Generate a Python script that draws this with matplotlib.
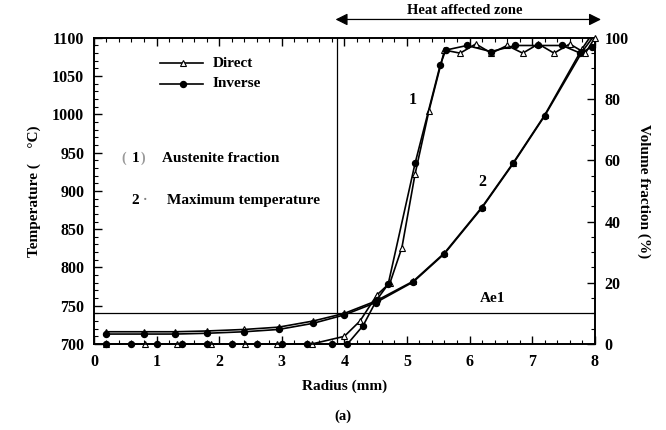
import numpy as np
import matplotlib
matplotlib.use("Agg")
import matplotlib.pyplot as plt
from matplotlib.ticker import MultipleLocator

# ---------------------------------------------------------------------------
# Data
# ---------------------------------------------------------------------------
# Maximum temperature (curve 2, left axis)
temp_x = [0.2, 0.8, 1.3, 1.8, 2.4, 2.95, 3.5, 4.0, 4.5, 5.1, 5.6, 6.2, 6.7, 7.2, 7.8, 8.0]
temp_direct = [716, 716, 716, 717, 719, 722, 730, 740, 756, 782, 819, 879, 937, 999, 1086, 1110]
temp_inverse = [713, 713, 713, 714, 716, 719, 727, 738, 754, 781, 818, 878, 936, 998, 1082, 1104]

# Austenite fraction (curve 1, right axis)
frac_dir_x = [0.2, 0.82, 1.33, 1.87, 2.41, 2.92, 3.48, 4.0, 4.25, 4.52, 4.73, 4.92,
              5.13, 5.35, 5.6, 5.85, 6.1, 6.35, 6.6, 6.85, 7.1, 7.35, 7.6, 7.85, 8.0]
frac_dir = [0, 0, 0, 0, 0, 0, 0, 2.5, 7.5, 16, 20, 31.5,
            55.5, 76, 96, 95, 98, 95, 97.5, 95, 98, 95, 98, 95, 100]

frac_inv_x = [0.2, 0.6, 1.0, 1.4, 1.8, 2.2, 2.6, 3.0, 3.4, 3.8, 4.05, 4.3, 4.52, 4.7,
              5.13, 5.53, 5.62, 5.96, 6.34, 6.73, 7.1, 7.48, 7.77, 7.95]
frac_inv = [0, 0, 0, 0, 0, 0, 0, 0, 0, 0, 0, 6, 14.5, 19.5,
            59, 91, 96, 97.5, 95.5, 97.5, 97.5, 97.5, 95, 97]

AE1 = 740          # °C
HAZ_START = 3.88   # mm

# ---------------------------------------------------------------------------
# Plot
# ---------------------------------------------------------------------------
plt.rcParams["font.family"] = ["Liberation Serif", "DejaVu Serif"]
plt.rcParams["font.weight"] = "bold"
plt.rcParams["axes.labelweight"] = "bold"

fig = plt.figure(figsize=(6.66, 4.30), dpi=100)
ax = fig.add_axes([0.141, 0.200, 0.752, 0.712])
ax2 = ax.twinx()

lw = 1.2
tri = dict(marker="^", ms=4, mfc="white", mec="black", mew=0.8)
dot = dict(marker="o", ms=4.3, mfc="black", mec="black")

# temperature curves
ax.plot(temp_x, temp_direct, color="black", lw=lw, **tri)
ax.plot(temp_x, temp_inverse, color="black", lw=lw, **dot)

# austenite fraction curves
ax2.plot(frac_dir_x, frac_dir, color="black", lw=lw, clip_on=False, zorder=3, **tri)
ax2.plot(frac_inv_x, frac_inv, color="black", lw=lw, clip_on=False, zorder=3, **dot)

# Ae1 line and start of heat affected zone
ax.axhline(AE1, color="black", lw=0.9)
ax.axvline(HAZ_START, color="black", lw=0.9)

ax.set_xlim(0, 8)
ax.set_ylim(700, 1100)
ax2.set_ylim(0, 100)

ax.xaxis.set_major_locator(MultipleLocator(1))
ax.xaxis.set_minor_locator(MultipleLocator(0.2))
ax.yaxis.set_major_locator(MultipleLocator(50))
ax.yaxis.set_minor_locator(MultipleLocator(10))
ax2.yaxis.set_major_locator(MultipleLocator(20))
ax2.yaxis.set_minor_locator(MultipleLocator(5))

ax.tick_params(axis="both", which="both", direction="in", top=True, labelsize=11.5, pad=7)
ax.tick_params(which="major", length=6, width=1)
ax.tick_params(which="minor", length=3, width=0.8)
ax.tick_params(axis="y", right=False)
ax2.tick_params(axis="y", which="both", direction="in", labelsize=11.5, pad=7)
ax2.tick_params(axis="y", which="major", length=6, width=1)
ax2.tick_params(axis="y", which="minor", length=3, width=0.8)
for a in (ax, ax2):
    for s in a.spines.values():
        s.set_linewidth(1.2)

ax.set_ylabel("Temperature (    °C)", fontsize=11, labelpad=8)
ax2.set_ylabel("Volume fraction (%)", fontsize=11, rotation=270, labelpad=16)
ax.set_xlabel("Radius (mm)", fontsize=11, labelpad=7)
fig.text(0.515, 0.032, "(a)", ha="center", va="center", fontsize=10.5)

# legend built by hand
ax.plot([1.05, 1.75], [1067, 1067], color="black", lw=lw)
ax.plot([1.42], [1067], color="black", **tri)
ax.plot([1.05, 1.75], [1040, 1040], color="black", lw=lw)
ax.plot([1.42], [1040], color="black", **dot)
ax.text(1.9, 1067, "Direct", fontsize=11, va="center")
ax.text(1.9, 1040, "Inverse", fontsize=11, va="center")

# curve annotations
ax.text(0.44, 943, "(", fontsize=10, va="center", color="0.6")
ax.text(0.6, 943, "1", fontsize=11, va="center")
ax.text(0.74, 943, ")", fontsize=10, va="center", color="0.6")
ax.text(1.08, 943, "Austenite fraction", fontsize=11, va="center")
ax.text(0.6, 888, "2", fontsize=11, va="center")
ax.text(0.78, 888, "·", fontsize=10, va="center", color="0.5")
ax.text(1.16, 888, "Maximum temperature", fontsize=11, va="center")
ax.text(5.1, 1019, "1", fontsize=11.5, ha="center", va="center")
ax.text(6.21, 912, "2", fontsize=11.5, ha="center", va="center")
ax.text(6.37, 760, "Ae1", fontsize=11, ha="center", va="center")

# heat affected zone arrow above the axes
ax.annotate("", xy=(8.1, 1124), xytext=(HAZ_START - 0.02, 1124), xycoords="data",
            annotation_clip=False,
            arrowprops=dict(arrowstyle="<|-|>", color="black", lw=0.9,
                            mutation_scale=18, shrinkA=0, shrinkB=0))
ax.text(5.93, 1136, "Heat affected zone", fontsize=10.5, ha="center", va="center",
        clip_on=False)

fig.savefig("out.png", dpi=100)
